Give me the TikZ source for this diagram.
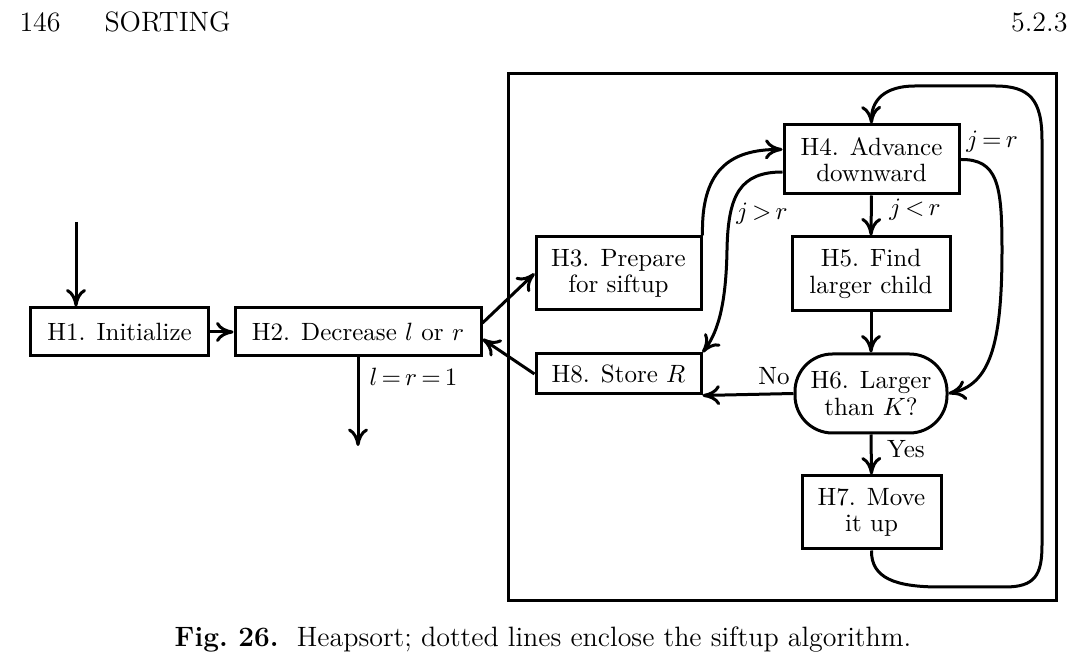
\documentclass[tikz,border=0pt]{standalone}
\usetikzlibrary{positioning,arrows.meta}

\begin{document}
\begin{tikzpicture}[x=0.4pt,y=-0.4pt,
						box/.style={draw,line width=1.2pt,inner sep=0pt,align=center,font=\fontsize{10}{10.5}\selectfont},
						oval/.style={box,rounded corners=15pt},
						arr/.style={line width=1.2pt,-{Computer Modern Rightarrow[length=7pt,width=8pt]}},
						lbl/.style={inner sep=0pt},
						page/.style={inner sep=0pt,font=\fontsize{11.2}{13}\selectfont}]
		\useasboundingbox (0,0) rectangle (1081,664);

		% running head and caption
		\node[page,anchor=west]	(num)		at (19,22)		{146};
		\node[page,anchor=west]	(head)	at (104,22)		{SORTING};
		\node[page,anchor=east]	(sec)		at (1068,22)	{5.2.3};
		\node[page]					(cap)		at (543,640)	{\textbf{Fig.\ 26.}\ \ Heapsort; dotted lines enclose the siftup algorithm.};

		% siftup frame
		\draw[line width=1.2pt] (508,74) rectangle (1056,601);

		\node[box,minimum width=70.8pt,minimum height=19.2pt]	(h1)	at (119.5,332)	{H1. Initialize};
		\node[box,minimum width=98.4pt,minimum height=19.2pt]	(h2)	at (358,332)	{H2. Decrease $l$ or $r$};
		\node[box,minimum width=66pt,minimum height=29.2pt]		(h3)	at (618.5,273.5)	{H3. Prepare\\for siftup};
		\node[box,minimum width=66pt,minimum height=16pt]		(h8)	at (618.5,374)	{H8. Store $R$};
		\node[box,minimum width=70pt,minimum height=27.6pt]		(h4)	at (871.5,159.5)	{H4. Advance\\downward};
		\node[box,minimum width=63.2pt,minimum height=29.6pt]	(h5)	at (871,274)	{H5. Find\\larger child};
		\node[oval,minimum width=60.8pt,minimum height=31.6pt]	(h6)	at (871,393.5)	{H6. Larger\\than $K$?};
		\node[box,minimum width=55.6pt,minimum height=29.2pt]	(h7)	at (871.5,512.5)	{H7. Move\\it up};

		\coordinate (start)	at (76,222);
		\coordinate (done)	at (358,446);

		\draw[arr] (start) -- (start |- h1.north);
		\draw[arr] (h1.east) -- (h2.west);
		\draw[arr] (h2.south) -- node[lbl,pos=0.22,right=4pt] {$l\,{=}\,r\,{=}\,1$} (done);
		\draw[arr] ([yshift=3.6pt]h2.east) -- (h3.west);
		\draw[arr] (h8.west) -- ([yshift=-2.8pt]h2.east);
		\draw[arr] (h3.north east) .. controls (701,172) and (728,149) .. ([yshift=4pt]h4.west);
		\draw[arr] ([yshift=-5pt]h4.west) .. controls (740,172) and (728,195) .. (727,250)
			.. controls (726,310) and (716,335) .. (h8.north east);
		\draw[arr] (h4.south) -- (h5.north);
		\draw[arr] (h4.east) .. controls (998,159) and (1002,185) .. (1002,250)
			.. controls (1002,345) and (990,385) .. (h6.east);
		\draw[arr] (h5.south) -- (h6.north);
		\draw[arr] (h6.west) -- (h8.south east);
		\draw[arr] (h6.south) -- (h7.north);
		\draw[arr] (h7.south) .. controls (871,578) and (895,587) .. (940,587) -- (1005,587)
			.. controls (1035,587) and (1042,575) .. (1042,545) -- (1042,140)
			.. controls (1042,100) and (1030,86) .. (995,86) -- (915,86)
			.. controls (885,86) and (871,100) .. (h4.north);

		\node[lbl] (jgr)	at (762,214)	{$j\,{>}\,r$};
		\node[lbl] (jlr)	at (915,210)	{$j\,{<}\,r$};
		\node[lbl] (jer)	at (992,142)	{$j\,{=}\,r$};
		\node[lbl] (no)		at (774,376)	{No};
		\node[lbl] (yes)	at (906,449)	{Yes};
	\end{tikzpicture}
\end{document}
